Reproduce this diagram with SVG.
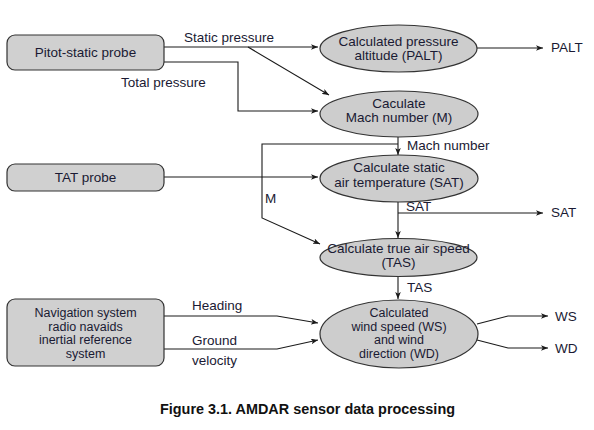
<svg xmlns="http://www.w3.org/2000/svg" width="594" height="430" viewBox="0 0 594 430">
<defs>
<marker id="arr" viewBox="0 0 10 8" refX="10" refY="4" markerWidth="7" markerHeight="5.6" orient="auto" markerUnits="userSpaceOnUse">
<path d="M0,0 L10,4 L0,8 L2.5,4 Z" fill="#1a1a1a"/>
</marker>
</defs>
<style>
text{font-family:"Liberation Sans",Arial,sans-serif;font-size:13.5px;fill:#1a1a33}
.c{text-anchor:middle}
.s{font-size:12.5px}
.box{fill:#d0d0d0;stroke:#333;stroke-width:1.2}
.ell{fill:#cdcdcd;stroke:#333;stroke-width:1.2}
.ln{fill:none;stroke:#1a1a1a;stroke-width:1.1}
.cap{font-weight:bold;font-size:14px;fill:#111}
</style>
<rect width="594" height="430" fill="#ffffff"/>
<g id="connectors">
<path class="ln" d="M164,47 H318" marker-end="url(#arr)"/>
<path class="ln" d="M248,47 L329,95" marker-end="url(#arr)"/>
<path class="ln" d="M164,62 H238 V111 H318" marker-end="url(#arr)"/>
<path class="ln" d="M398,137 V155" marker-end="url(#arr)"/>
<path class="ln" d="M398,144 H262 V218 L320,244" marker-end="url(#arr)"/>
<path class="ln" d="M164,177 H318" marker-end="url(#arr)"/>
<path class="ln" d="M398,202 V238" marker-end="url(#arr)"/>
<path class="ln" d="M398,213 H543" marker-end="url(#arr)"/>
<path class="ln" d="M398,276 V299" marker-end="url(#arr)"/>
<path class="ln" d="M164,316 H277 L318,323" marker-end="url(#arr)"/>
<path class="ln" d="M164,349 H277 L318,340" marker-end="url(#arr)"/>
<path class="ln" d="M477,48 H543" marker-end="url(#arr)"/>
<path class="ln" d="M477,324 L508,316 H548" marker-end="url(#arr)"/>
<path class="ln" d="M477,340 L508,348 H548" marker-end="url(#arr)"/>
<text x="184" y="42">Static pressure</text>
<text x="121" y="87">Total pressure</text>
<text x="407" y="150">Mach number</text>
<text x="265" y="203">M</text>
<text x="406" y="211">SAT</text>
<text x="407" y="292">TAS</text>
<text x="192" y="310">Heading</text>
<text x="192" y="345">Ground</text>
<text x="192" y="365">velocity</text>
<text x="551" y="52">PALT</text>
<text x="551" y="217">SAT</text>
<text x="555" y="321">WS</text>
<text x="555" y="353">WD</text>
</g>
<g id="pitot">
<rect class="box" x="7" y="35" width="157" height="35" rx="8"/>
<text class="c" x="85.5" y="57">Pitot-static probe</text>
</g>
<g id="tat">
<rect class="box" x="7" y="164" width="157" height="27" rx="8"/>
<text class="c" x="85.5" y="182">TAT probe</text>
</g>
<g id="nav">
<rect class="box" x="7" y="299" width="157" height="67" rx="8"/>
<text class="c s" x="85.5" y="317">Navigation system</text>
<text class="c s" x="85.5" y="330.5">radio navaids</text>
<text class="c s" x="85.5" y="344">inertial reference</text>
<text class="c s" x="85.5" y="357.5">system</text>
</g>
<g id="palt">
<ellipse class="ell" cx="398.5" cy="48.5" rx="78.5" ry="23.5"/>
<text class="c" x="398.5" y="46">Calculated pressure</text>
<text class="c" x="398.5" y="60">altitude (PALT)</text>
</g>
<g id="mach">
<ellipse class="ell" cx="399" cy="114" rx="79" ry="23"/>
<text class="c" x="399" y="108">Caculate</text>
<text class="c" x="399" y="122">Mach number (M)</text>
</g>
<g id="sat">
<ellipse class="ell" cx="399" cy="178.5" rx="79" ry="23.5"/>
<text class="c" x="399" y="172">Calculate static</text>
<text class="c" x="399" y="186.5">air temperature (SAT)</text>
</g>
<g id="tas">
<ellipse class="ell" cx="398.5" cy="257.5" rx="78.5" ry="19"/>
<text class="c" x="398.5" y="253">Calculate true air speed</text>
<text class="c" x="398.5" y="267">(TAS)</text>
</g>
<g id="wind">
<ellipse class="ell" cx="399" cy="334" rx="79" ry="34"/>
<text class="c s" x="399" y="317">Calculated</text>
<text class="c s" x="399" y="330.5">wind speed (WS)</text>
<text class="c s" x="399" y="344">and wind</text>
<text class="c s" x="399" y="357.5">direction (WD)</text>
</g>
<text class="cap c" x="307.5" y="414" textLength="295" lengthAdjust="spacingAndGlyphs">Figure 3.1. AMDAR sensor data processing</text>
</svg>
